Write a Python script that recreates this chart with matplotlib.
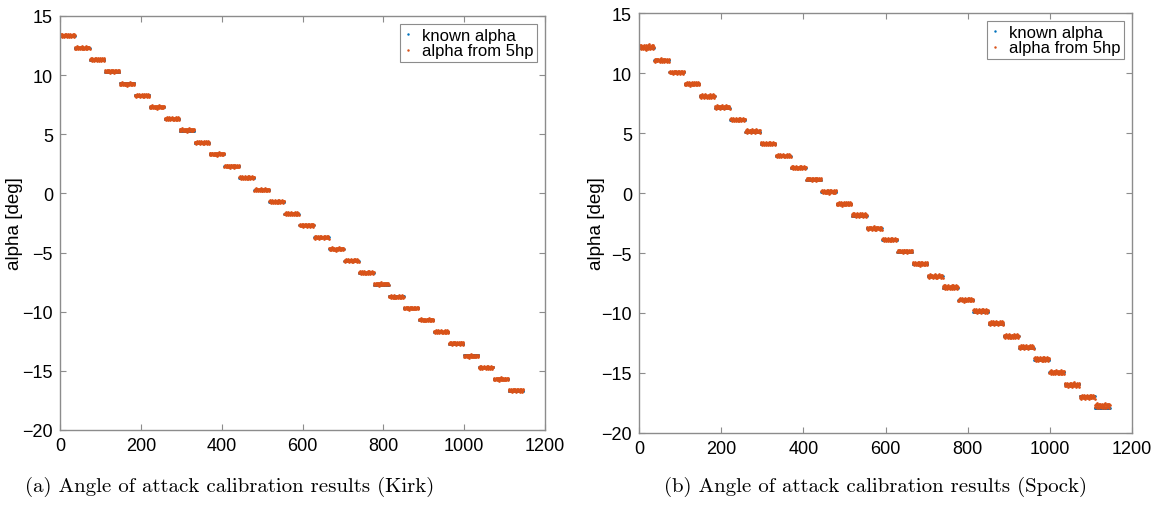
import numpy as np
import matplotlib
matplotlib.use('Agg')
import matplotlib.pyplot as plt

plt.rcParams['font.family'] = ['Liberation Sans', 'DejaVu Sans']

# step levels of the known angle of attack [deg]
kirk_levels = [13.3, 12.3, 11.3, 10.3, 9.3, 8.3, 7.3, 6.3, 5.3, 4.3, 3.3, 2.3, 1.3, 0.3,
               -0.7, -1.7, -2.7, -3.7, -4.7, -5.7, -6.7, -7.7, -8.7, -9.7, -10.7,
               -11.7, -12.7, -13.7, -14.7, -15.7, -16.7]
spock_levels = [12.1, 11.1, 10.1, 9.1, 8.1, 7.1, 6.1, 5.1, 4.1, 3.1, 2.1, 1.1, 0.1,
                -0.9, -1.9, -2.9, -3.9, -4.9, -5.9, -6.9, -7.9, -8.9, -9.9, -10.9,
                -11.9, -12.9, -13.9, -14.9, -15.9, -16.9, -17.9]

# mean offset of the 5hp estimate from the known value, per step
kirk_bias = [0.05, 0.0, 0.02, 0.03, -0.05, -0.03, 0.0, 0.02, 0.05, 0.0, 0.02, 0.0, 0.03,
             0.0, 0.0, -0.02, 0.0, -0.02, 0.0, 0.02, 0.0, 0.03, -0.05, 0.0, 0.0,
             0.0, 0.02, -0.05, -0.03, 0.0, 0.05]
spock_bias = [0.05, -0.05, -0.05, 0.0, -0.05, 0.05, 0.0, 0.05, 0.0, 0.0, 0.0, 0.05, 0.0,
              0.0, 0.05, -0.05, 0.0, 0.05, 0.0, -0.05, 0.05, 0.0, 0.05, 0.05, -0.05,
              0.05, 0.05, -0.05, -0.1, -0.1, 0.15]
# spread of the estimate, per step
kirk_spread = [1.4] * 31
spock_spread = [2.2, 1.6, 1.4, 1.6, 1.8, 1.6, 1.4, 1.6, 1.4, 1.4, 1.4, 1.4, 1.6,
                1.6, 1.8, 1.6, 1.4, 1.4, 1.6, 1.8, 1.9, 1.6, 1.8, 1.8, 1.9,
                1.8, 2.0, 1.9, 2.0, 2.0, 2.2]

# scatter of samples within one step (read by eye)
wiggle_a = [0.05, -0.03, 0.08, 0.02, -0.06, 0.04, 0.10, -0.02, 0.03, -0.08, 0.06, 0.01,
            -0.04, 0.09, -0.05, 0.02, 0.07, -0.03, -0.09, 0.04, 0.00, 0.08, -0.06, 0.03,
            0.11, -0.02, 0.05, -0.07, 0.02, 0.06, -0.04, 0.09, -0.01, 0.04, -0.08, 0.07, 0.02]
wiggle_b = [-0.04, 0.06, 0.01, -0.07, 0.03, 0.09, -0.02, 0.05, -0.05, 0.00, 0.08, -0.03,
            0.04, -0.09, 0.02, 0.06, -0.01, 0.10, -0.04, 0.03, -0.06, 0.05, 0.01, -0.08,
            0.07, 0.02, -0.03, 0.09, -0.05, 0.04, 0.00, -0.06, 0.08, 0.03, -0.02, 0.06, -0.07]
samples_per_step = 37

blue = '#0072BD'
orange = '#D95319'
grey = '#8c8c8c'


def make_series(levels, bias, spread):
    known = np.repeat(levels, samples_per_step).astype(float)
    meas = []
    for i, lv in enumerate(levels):
        w = np.array(wiggle_a if i % 2 == 0 else wiggle_b)
        meas.append(lv + bias[i] + spread[i] * w)
    return known, np.concatenate(meas)


W, H = 1162, 506
fig = plt.figure(figsize=(W / 100, H / 100), dpi=100)

# axes box in pixels, caption centre, y-label right edge
panels = [
    (kirk_levels, kirk_bias, kirk_spread, [60, 17, 545, 431],
     '(a) Angle of attack calibration results (Kirk)', 230, 23),
    (spock_levels, spock_bias, spock_spread, [639, 14, 1132, 434],
     '(b) Angle of attack calibration results (Spock)', 876, 605),
]

for levels, bias, spread, box, caption, cx, lx in panels:
    x0, y0, x1, y1 = box
    ax = fig.add_axes([x0 / W, 1 - y1 / H, (x1 - x0) / W, (y1 - y0) / H])
    known, meas = make_series(levels, bias, spread)
    idx = np.arange(len(known))
    ax.plot(idx, known, '.', color=blue, markersize=1.9, label='known alpha')
    ax.plot(idx, meas, '.', color=orange, markersize=1.9, label='alpha from 5hp')

    ax.set_xlim(0, 1200)
    ax.set_ylim(-20, 15)
    ax.set_xticks(np.arange(0, 1201, 200))
    ax.set_yticks(np.arange(-20, 16, 5))
    ax.tick_params(direction='in', top=True, right=True, length=4, color=grey,
                   labelsize=13, pad=5)
    for s in ax.spines.values():
        s.set_color(grey)
        s.set_linewidth(1.0)
    ax.set_ylabel('alpha [deg]', fontsize=13.5)
    ax.yaxis.set_label_coords((lx - x0) / (x1 - x0), 0.5)

    leg = ax.legend(loc='upper right', fontsize=12, markerscale=0.8, handlelength=0.5,
                    handletextpad=0.6, borderpad=0.2, labelspacing=0.05,
                    fancybox=False, framealpha=1, borderaxespad=0.5)
    leg.get_frame().set_edgecolor(grey)
    leg.get_frame().set_linewidth(0.8)

    fig.text(cx / W, 1 - 487 / H, caption, ha='center', va='center',
             fontfamily='cmr10', fontsize=15)

fig.savefig('out.png', dpi=100)
